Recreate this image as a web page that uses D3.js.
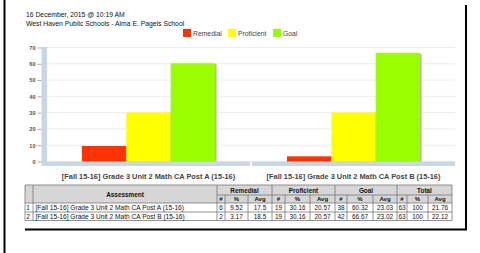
<!DOCTYPE html>
<html><head><meta charset="utf-8">
<script src="https://cdn.jsdelivr.net/npm/d3@7"></script>
<style>
html,body{margin:0;padding:0;background:#fff;}
svg{display:block;font-family:"Liberation Sans",Arial,sans-serif;}
</style></head><body>
<svg id="c" width="480" height="253"></svg>
<script>
const titleLines = ["16 December, 2015 @ 10:19 AM", "West Haven Public Schools - Alma E. Pagels School"];
const categories = ["[Fall 15-16] Grade 3 Unit 2 Math CA Post A (15-16)", "[Fall 15-16] Grade 3 Unit 2 Math CA Post B (15-16)"];
const seriesNames = ["Remedial", "Proficient", "Goal"];
const seriesColors = ["#ff3300", "#ffff00", "#99ff00"];
const remedialPct = [9.52, 3.17];
const proficientPct = [30.16, 30.16];
const goalPct = [60.32, 66.67];
const yTicks = [0, 10, 20, 30, 40, 50, 60, 70];

const remedialCount = [6, 2];
const remedialAvg = ["17.5", "18.5"];
const proficientCount = [19, 19];
const proficientAvg = ["20.57", "20.57"];
const goalCount = [38, 42];
const goalAvg = ["23.03", "23.02"];
const totalCount = [63, 63];
const totalPct = ["100", "100"];
const totalAvg = ["21.76", "22.12"];

const svg = d3.select("#c");

// page frame lines
svg.append("rect").attr("x", 3.5).attr("y", 0).attr("width", 2).attr("height", 253).attr("fill", "#000");
svg.append("rect").attr("x", 465).attr("y", 5).attr("width", 2).attr("height", 225).attr("fill", "#000");
svg.append("rect").attr("x", 25).attr("y", 228.5).attr("width", 442).attr("height", 2).attr("fill", "#000");

// titles
svg.selectAll("text.title").data(titleLines).join("text")
  .attr("x", 26).attr("y", (d, i) => 17 + i * 8.7)
  .attr("font-size", 6.8).attr("fill", "#111").text(d => d);

// legend
const legX = [183, 228, 273];
seriesNames.forEach((s, i) => {
  svg.append("rect").attr("x", legX[i]).attr("y", 29).attr("width", 8).attr("height", 8)
    .attr("fill", seriesColors[i]);
  svg.append("text").attr("x", legX[i] + 10).attr("y", 35.5).attr("font-size", 6.8)
    .attr("fill", "#444").text(s);
});

// scales
const y = d3.scaleLinear().domain([0, 70]).range([161.5, 47.5]);
const x0 = d3.scaleBand().domain(categories).range([47, 455]).paddingInner(0.01);
const x1 = d3.scaleBand().domain(seriesNames)
  .range([x0.bandwidth() * 0.172, x0.bandwidth() * 0.828]);

// gridlines
svg.append("g").selectAll("line").data(yTicks).join("line")
  .attr("x1", 47).attr("x2", 455).attr("y1", d => y(d)).attr("y2", d => y(d))
  .attr("stroke", "#ececec").attr("stroke-width", 1);

// wall
svg.append("rect").attr("x", 41.5).attr("y", 47).attr("width", 5.5).attr("height", 119)
  .attr("fill", "#c9d6e4");
// floor
categories.forEach(c => {
  svg.append("rect").attr("x", x0(c)).attr("y", 161.5).attr("width", x0.bandwidth()).attr("height", 4.5)
    .attr("fill", "#c9d6e4");
});

// y axis
const yAxis = d3.axisLeft(y).tickValues(yTicks).tickSize(4).tickPadding(2);
const ga = svg.append("g").attr("transform", "translate(41.5,0)").call(yAxis);
ga.select(".domain").remove();
ga.selectAll(".tick line").attr("stroke", "#aaa");
ga.selectAll(".tick text").attr("font-size", 5.6).attr("font-weight", "bold").attr("fill", "#555")
  .attr("font-family", "Liberation Sans, Arial, sans-serif");

// bars
const rows = categories.map((c, i) => ({c, vals: [remedialPct[i], proficientPct[i], goalPct[i]]}));
const g = svg.append("g");
rows.forEach(r => {
  r.vals.forEach((v, j) => {
    const bx = x0(r.c) + x1(seriesNames[j]);
    g.append("rect").attr("x", bx + 1.5).attr("y", y(v) + 1).attr("width", x1.bandwidth())
      .attr("height", y(0) - y(v) - 1).attr("fill", "#b5b5b5");
    g.append("rect").attr("x", bx).attr("y", y(v)).attr("width", x1.bandwidth())
      .attr("height", y(0) - y(v)).attr("fill", seriesColors[j]);
  });
});

// category labels
svg.selectAll("text.cat").data(categories).join("text")
  .attr("x", d => x0(d) + x0.bandwidth() / 2).attr("y", 178.5)
  .attr("text-anchor", "middle").attr("font-size", 7.4).attr("font-weight", "bold").attr("fill", "#444")
  .text(d => d);

// ---- table ----
const cols = [25, 33, 217, 225, 248, 272, 285, 310, 335, 347, 373, 397, 407, 428, 452];
const yTop = 185, ySub = 195, yRow1 = 203, yRow2 = 212, yBot = 220.5;
const tg = svg.append("g");
tg.append("rect").attr("x", cols[0]).attr("y", yTop).attr("width", cols[cols.length - 1] - cols[0])
  .attr("height", yRow1 - yTop).attr("fill", "#d6d6d6");
const stroke = "#777";
function hline(x1, x2, yy) { tg.append("line").attr("x1", x1).attr("x2", x2).attr("y1", yy).attr("y2", yy).attr("stroke", stroke).attr("stroke-width", 0.8); }
function vline(xx, y1, y2) { tg.append("line").attr("x1", xx).attr("x2", xx).attr("y1", y1).attr("y2", y2).attr("stroke", stroke).attr("stroke-width", 0.8); }
hline(cols[0], cols[14], yTop); hline(cols[0], cols[14], yRow1); hline(cols[0], cols[14], yRow2); hline(cols[0], cols[14], yBot);
hline(cols[2], cols[14], ySub);
cols.forEach((cx, i) => {
  const isGroup = [0, 1, 2, 5, 8, 11, 14].includes(i);
  vline(cx, isGroup ? yTop : ySub, yBot);
});
function txt(x, yy, s, opts = {}) {
  tg.append("text").attr("x", x).attr("y", yy).attr("font-size", opts.size || 6.4)
    .attr("text-anchor", opts.anchor || "middle").attr("font-weight", opts.bold ? "bold" : "normal")
    .attr("fill", "#111").text(s);
}
txt((cols[1] + cols[2]) / 2, 196.5, "Assessment", {bold: true, size: 6.4});
const groups = ["Remedial", "Proficient", "Goal", "Total"];
groups.forEach((gname, k) => {
  const a = cols[2 + k * 3], b = cols[5 + k * 3];
  txt((a + b) / 2, 192.5, gname, {bold: true, size: 6.4});
  ["#", "%", "Avg"].forEach((h, m) => {
    txt((cols[2 + k * 3 + m] + cols[3 + k * 3 + m]) / 2, 201.3, h, {bold: true, size: 6});
  });
});
const rowYs = [209.8, 218.5];
categories.forEach((c, i) => {
  const vals = [remedialCount[i], remedialPct[i].toFixed(2), remedialAvg[i],
    proficientCount[i], proficientPct[i].toFixed(2), proficientAvg[i],
    goalCount[i], goalPct[i].toFixed(2), goalAvg[i],
    totalCount[i], totalPct[i], totalAvg[i]];
  txt((cols[0] + cols[1]) / 2 - 1, rowYs[i], String(i + 1));
  txt(cols[1] + 2.5, rowYs[i], c, {anchor: "start", size: 6.6});
  vals.forEach((v, m) => {
    txt((cols[2 + m] + cols[3 + m]) / 2, rowYs[i], String(v));
  });
});
</script>
</body></html>
